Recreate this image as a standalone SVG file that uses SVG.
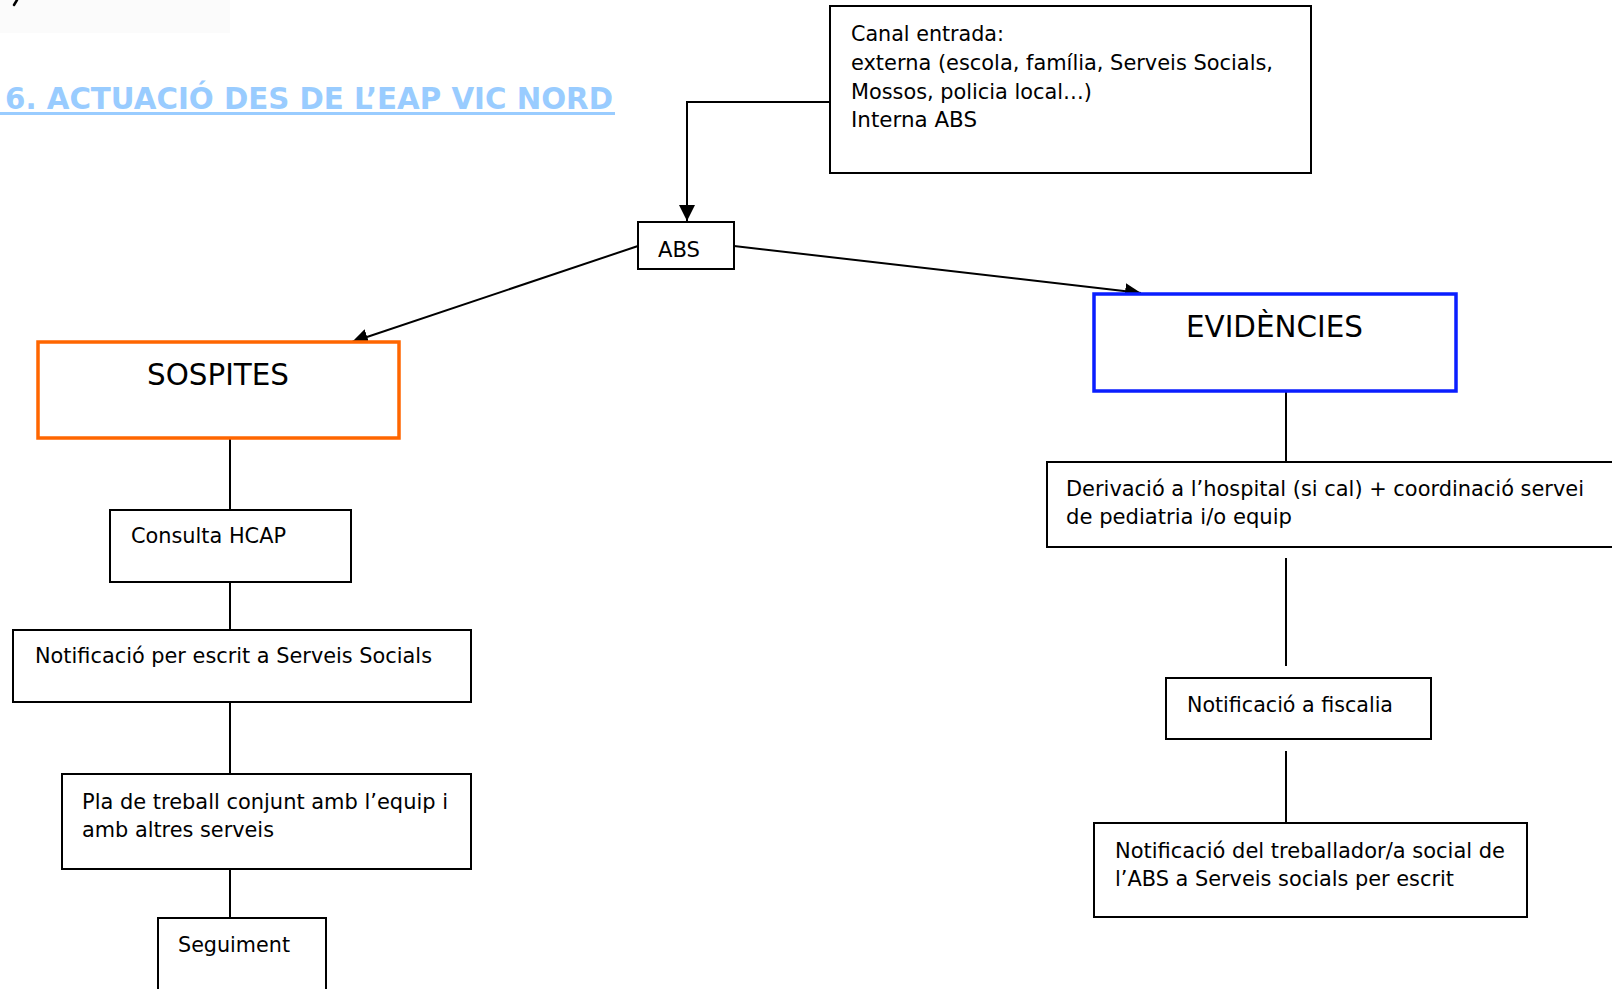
<svg xmlns="http://www.w3.org/2000/svg" width="1612" height="989" viewBox="0 0 1612 989">
<style>
.box{fill:#fff;stroke:#000;stroke-width:2}
.t{font-family:"DejaVu Sans","Liberation Sans",sans-serif;font-size:22px;fill:#000}
.big{font-family:"DejaVu Sans","Liberation Sans",sans-serif;font-size:31px;fill:#000}
.ln{fill:none;stroke:#000;stroke-width:2}
</style>
<defs>
<marker id="arr" markerUnits="userSpaceOnUse" markerWidth="17" markerHeight="16" refX="16" refY="8" orient="auto">
<path d="M0,0 L16,8 L0,16 Z" fill="#000"/>
</marker>
</defs>
<rect width="1612" height="989" fill="#fff"/>
<rect x="0" y="0" width="230" height="33" fill="#fbfbfb"/>
<path d="M17,0 L14,5" stroke="#000" stroke-width="2.5" stroke-linecap="round"/>
<g id="title">
<text x="5" y="109" font-family="'DejaVu Sans','Liberation Sans',sans-serif" font-weight="bold" font-size="30" fill="#99ccff" textLength="608" lengthAdjust="spacingAndGlyphs">6. ACTUACIÓ DES DE L’EAP VIC NORD</text>
<rect x="0" y="112" width="615" height="3" fill="#99ccff"/>
</g>
<g id="connectors">
<path class="ln" d="M830,102 H687 V221" marker-end="url(#arr)"/>
<path class="ln" d="M638,246 L352,342" marker-end="url(#arr)"/>
<path class="ln" d="M734,246 L1141,293" marker-end="url(#arr)"/>
<path class="ln" d="M230,439 V510"/>
<path class="ln" d="M230,582 V630"/>
<path class="ln" d="M230,702 V774"/>
<path class="ln" d="M230,869 V918"/>
<path class="ln" d="M1286,392 V462"/>
<path class="ln" d="M1286,558 V666"/>
<path class="ln" d="M1286,751 V823"/>
</g>
<g id="canal">
<rect class="box" x="830" y="6" width="481" height="167"/>
<text class="t" x="851" y="41" textLength="153" lengthAdjust="spacingAndGlyphs">Canal entrada:</text>
<text class="t" x="851" y="70" textLength="422" lengthAdjust="spacingAndGlyphs">externa (escola, família, Serveis Socials,</text>
<text class="t" x="851" y="98.5" textLength="241" lengthAdjust="spacingAndGlyphs">Mossos, policia local…)</text>
<text class="t" x="851" y="127" textLength="126" lengthAdjust="spacingAndGlyphs">Interna ABS</text>
</g>
<g id="abs">
<rect class="box" x="638" y="222" width="96" height="47"/>
<text class="t" x="658" y="257" textLength="42" lengthAdjust="spacingAndGlyphs">ABS</text>
</g>
<g id="sospites">
<rect x="38" y="342" width="361" height="96" fill="#fff" stroke="#ff6600" stroke-width="3.5"/>
<text class="big" x="147" y="385" textLength="142" lengthAdjust="spacingAndGlyphs">SOSPITES</text>
</g>
<g id="consulta">
<rect class="box" x="110" y="510" width="241" height="72"/>
<text class="t" x="131" y="543" textLength="155" lengthAdjust="spacingAndGlyphs">Consulta HCAP</text>
</g>
<g id="notif-ss">
<rect class="box" x="13" y="630" width="458" height="72"/>
<text class="t" x="35" y="663" textLength="397" lengthAdjust="spacingAndGlyphs">Notificació per escrit a Serveis Socials</text>
</g>
<g id="pla">
<rect class="box" x="62" y="774" width="409" height="95"/>
<text class="t" x="82" y="809" textLength="366" lengthAdjust="spacingAndGlyphs">Pla de treball conjunt amb l’equip i</text>
<text class="t" x="82" y="837" textLength="192" lengthAdjust="spacingAndGlyphs">amb altres serveis</text>
</g>
<g id="seguiment">
<rect class="box" x="158" y="918" width="168" height="90"/>
<text class="t" x="178" y="952" textLength="112" lengthAdjust="spacingAndGlyphs">Seguiment</text>
</g>
<g id="evidencies">
<rect x="1094" y="294" width="362" height="97" fill="#fff" stroke="#0a1eff" stroke-width="3.5"/>
<text class="big" x="1186" y="337" textLength="177" lengthAdjust="spacingAndGlyphs">EVIDÈNCIES</text>
</g>
<g id="derivacio">
<rect class="box" x="1047" y="462" width="580" height="85"/>
<text class="t" x="1066" y="496" textLength="518" lengthAdjust="spacingAndGlyphs">Derivació a l’hospital (si cal) + coordinació servei</text>
<text class="t" x="1066" y="524" textLength="226" lengthAdjust="spacingAndGlyphs">de pediatria i/o equip</text>
</g>
<g id="fiscalia">
<rect class="box" x="1166" y="678" width="265" height="61"/>
<text class="t" x="1187" y="712" textLength="206" lengthAdjust="spacingAndGlyphs">Notificació a fiscalia</text>
</g>
<g id="treballador">
<rect class="box" x="1094" y="823" width="433" height="94"/>
<text class="t" x="1115" y="858" textLength="390" lengthAdjust="spacingAndGlyphs">Notificació del treballador/a social de</text>
<text class="t" x="1115" y="886" textLength="339" lengthAdjust="spacingAndGlyphs">l’ABS a Serveis socials per escrit</text>
</g>
</svg>
